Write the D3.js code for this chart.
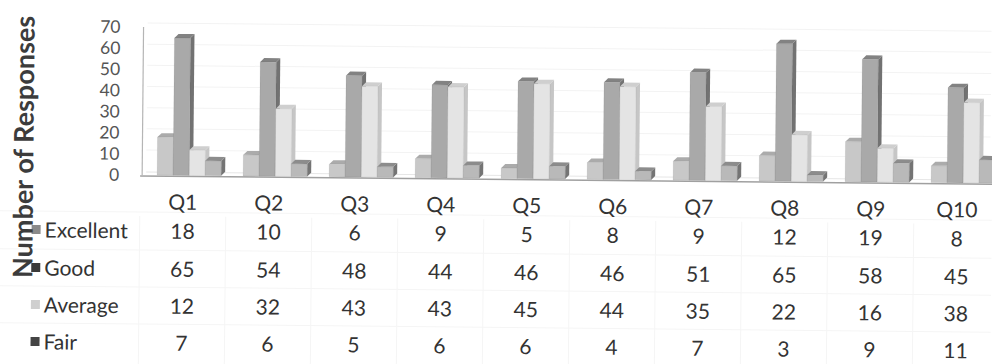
<!DOCTYPE html>
<html>
<head>
<meta charset="utf-8">
<script src="https://cdn.jsdelivr.net/npm/d3@7"></script>
<style>
  body { margin: 0; background: #fff; }
  svg { display: block; font-family: Lato, "Noto Sans", sans-serif; }
</style>
</head>
<body>
<svg id="chart" width="992" height="364"></svg>
<script>
// data
var categories = ["Q1", "Q2", "Q3", "Q4", "Q5", "Q6", "Q7", "Q8", "Q9", "Q10"];
var seriesNames = ["Excellent", "Good", "Average", "Fair"];
var excellent = [18, 10, 6, 9, 5, 8, 9, 12, 19, 8];
var good = [65, 54, 48, 44, 46, 46, 51, 65, 58, 45];
var average = [12, 32, 43, 43, 45, 44, 35, 22, 16, 38];
var fair = [7, 6, 5, 6, 6, 4, 7, 3, 9, 11];
var yTicks = [0, 10, 20, 30, 40, 50, 60, 70];

var values = [excellent, good, average, fair];

// colours: front / side / top / legend key
var colors = {
  Excellent: { front: '#c8c8c8', side: '#a0a0a0', top: '#ababab', key: '#8a8a8a' },
  Good:      { front: '#a9a9a9', side: '#727272', top: '#828282', key: '#3a3a3a' },
  Average:   { front: '#e4e4e4', side: '#c6c6c6', top: '#cfcfcf', key: '#cfcfcf' },
  Fair:      { front: '#b9b9b9', side: '#747474', top: '#8c8c8c', key: '#444444' }
};

var svg = d3.select('#chart');
// the scan is slightly tilted
var root = svg.append('g').attr('transform', 'rotate(0.55, 140, 190)');

var x = d3.scaleBand()
  .domain(categories)
  .range([140, 1000]);
var inner = d3.scaleBand()
  .domain(seriesNames)
  .range([17, 81]);
var y = d3.scaleLinear()
  .domain([0, 70])
  .range([175, 27]);

var dx = 4, dy = -4;

// back wall gridlines (very faint)
root.append('g')
  .selectAll('line')
  .data(yTicks.slice(1))
  .enter()
  .append('line')
  .attr('x1', 142 + dx)
  .attr('x2', 990)
  .attr('y1', function(d) { return y(d) + dy; })
  .attr('y2', function(d) { return y(d) + dy; })
  .attr('stroke', '#f3f3f3')
  .attr('stroke-width', 1);

// y axis
var yAxis = d3.axisLeft(y).tickValues(yTicks).tickSize(0).tickPadding(0);
var gy = root.append('g')
  .attr('transform', 'translate(119,0)')
  .call(yAxis);
gy.select('.domain').remove();
gy.selectAll('text')
  .attr('font-size', 17.5)
  .attr('fill', '#555')
  .attr('font-family', 'Lato, sans-serif');

// wall and floor edges
root.append('line')
  .attr('x1', 142).attr('x2', 142)
  .attr('y1', y(70)).attr('y2', y(0))
  .attr('stroke', '#b5b5b5').attr('stroke-width', 1.2);
root.append('line')
  .attr('x1', 140).attr('x2', 992)
  .attr('y1', y(0) + 1).attr('y2', y(0) + 1)
  .attr('stroke', '#a0a0a0').attr('stroke-width', 1.5);
root.append('line')
  .attr('x1', 142 + dx).attr('x2', 992)
  .attr('y1', y(0) + dy + 1).attr('y2', y(0) + dy + 1)
  .attr('stroke', '#e6e6e6').attr('stroke-width', 1);

// 3D bars
var barData = [];
categories.forEach(function(c, i) {
  seriesNames.forEach(function(s, j) {
    barData.push({ cat: c, series: s, value: values[j][i] });
  });
});

var bw = inner.bandwidth();
var bars = root.append('g')
  .selectAll('g')
  .data(barData)
  .enter()
  .append('g');

bars.append('path')   // side
  .attr('d', function(d) {
    var x0 = x(d.cat) + inner(d.series) + bw;
    var t = y(d.value), b = y(0);
    return 'M' + x0 + ',' + t + 'L' + (x0 + dx) + ',' + (t + dy) +
           'L' + (x0 + dx) + ',' + (b + dy) + 'L' + x0 + ',' + b + 'Z';
  })
  .attr('fill', function(d) { return colors[d.series].side; });

bars.append('path')   // top
  .attr('d', function(d) {
    var x0 = x(d.cat) + inner(d.series);
    var t = y(d.value);
    return 'M' + x0 + ',' + t + 'L' + (x0 + bw) + ',' + t +
           'L' + (x0 + bw + dx) + ',' + (t + dy) + 'L' + (x0 + dx) + ',' + (t + dy) + 'Z';
  })
  .attr('fill', function(d) { return colors[d.series].top; });

bars.append('rect')   // front
  .attr('x', function(d) { return x(d.cat) + inner(d.series); })
  .attr('y', function(d) { return y(d.value); })
  .attr('width', bw)
  .attr('height', function(d) { return y(0) - y(d.value); })
  .attr('fill', function(d) { return colors[d.series].front; })
  .attr('stroke', 'rgba(0,0,0,0.08)')
  .attr('stroke-width', 0.8);

// data table
var rowY = [231, 269, 306, 343];
var table = root.append('g');

table.selectAll('line.v')
  .data(categories)
  .enter()
  .append('line')
  .attr('class', 'v')
  .attr('x1', function(d) { return x(d); })
  .attr('x2', function(d) { return x(d); })
  .attr('y1', 216).attr('y2', 364)
  .attr('stroke', '#f5f5f5');

table.selectAll('line.h')
  .data(rowY)
  .enter()
  .append('line')
  .attr('class', 'h')
  .attr('x1', 0).attr('x2', 992)
  .attr('y1', function(d) { return d - 19; })
  .attr('y2', function(d) { return d - 19; })
  .attr('stroke', '#f5f5f5');

table.selectAll('text.cat')
  .data(categories)
  .enter()
  .append('text')
  .attr('class', 'cat')
  .attr('x', function(d) { return x(d) + x.bandwidth() / 2; })
  .attr('y', 202)
  .attr('dy', '0.35em')
  .attr('text-anchor', 'middle')
  .attr('font-size', 21)
  .attr('fill', '#333')
  .text(function(d) { return d; });

seriesNames.forEach(function(s, j) {
  var row = table.append('g');
  row.append('rect')
    .attr('x', 32).attr('y', rowY[j] - 5)
    .attr('width', 9).attr('height', 9)
    .attr('fill', colors[s].key);
  row.append('text')
    .attr('x', 45).attr('y', rowY[j])
    .attr('dy', '0.35em')
    .attr('font-size', 21)
    .attr('fill', '#333')
    .text(s);
  row.selectAll('text.val')
    .data(values[j])
    .enter()
    .append('text')
    .attr('class', 'val')
    .attr('x', function(d, i) { return x(categories[i]) + x.bandwidth() / 2; })
    .attr('y', rowY[j])
    .attr('dy', '0.35em')
    .attr('text-anchor', 'middle')
    .attr('font-size', 21)
    .attr('fill', '#333')
    .text(function(d) { return d; });
});

// y axis title
root.append('text')
  .attr('transform', 'translate(33,148) rotate(-90)')
  .attr('text-anchor', 'middle')
  .attr('font-size', 27)
  .attr('font-weight', 'bold')
  .attr('fill', '#3c3c3c')
  .text('Number of Responses');
</script>
</body>
</html>
